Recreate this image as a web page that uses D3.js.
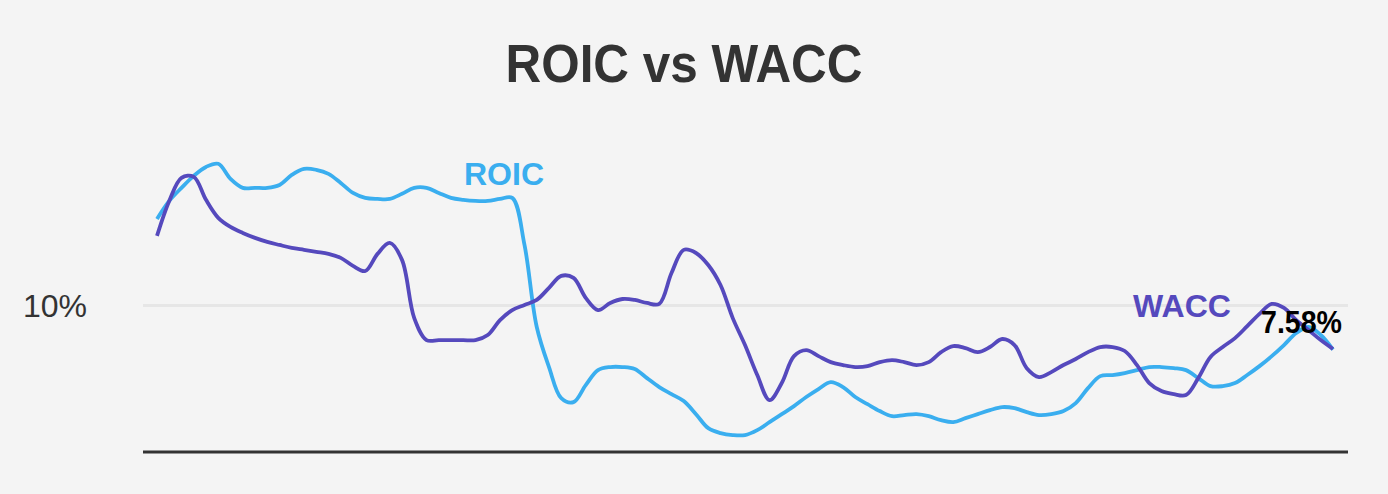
<!DOCTYPE html>
<html>
<head>
<meta charset="utf-8">
<script src="https://cdn.jsdelivr.net/npm/d3@7"></script>
<style>
  html, body { margin: 0; padding: 0; background: #f4f4f4; }
  svg { display: block; }
  text { font-family: "Liberation Sans", Arial, Helvetica, sans-serif; }
</style>
</head>
<body>
<svg id="chart" width="1388" height="494"></svg>
<script>
// ---- data (percent values, evenly spaced periods) ----
const roicValues = [
  14.73, 15.72, 16.44, 17.10, 17.59, 17.76, 16.93, 16.44, 16.44, 16.44,
  16.60, 17.15, 17.48, 17.43, 17.21, 16.71, 16.16, 15.89, 15.83, 15.83,
  16.11, 16.44, 16.44, 16.16, 15.89, 15.78, 15.72, 15.72, 15.83, 15.89,
  13.30, 8.79, 6.59, 4.88, 4.66, 5.60, 6.42, 6.59, 6.59, 6.48,
  5.98, 5.49, 5.10, 4.72, 4.00, 3.23, 2.96, 2.85, 2.85, 3.12,
  3.56, 4.00, 4.44, 4.94, 5.38, 5.76, 5.49, 4.94, 4.55, 4.17,
  3.89, 3.95, 4.00, 3.89, 3.67, 3.56, 3.78, 4.00, 4.22, 4.39,
  4.33, 4.11, 3.95, 4.00, 4.17, 4.61, 5.43, 6.09, 6.15, 6.26,
  6.42, 6.59, 6.59, 6.53, 6.42, 5.98, 5.54, 5.54, 5.71, 6.15,
  6.64, 7.19, 7.80, 8.46, 8.79, 8.35, 7.55
];
const waccValues = [
  13.80, 15.72, 16.99, 17.04, 15.78, 14.79, 14.29, 13.96, 13.69, 13.47,
  13.30, 13.14, 13.03, 12.92, 12.81, 12.59, 12.15, 11.87, 12.81, 13.41,
  12.48, 9.28, 8.07, 8.07, 8.07, 8.07, 8.07, 8.35, 9.17, 9.72,
  10.00, 10.28, 10.94, 11.60, 11.49, 10.39, 9.72, 10.11, 10.33, 10.28,
  10.11, 10.06, 11.76, 13.03, 12.86, 12.20, 11.10, 9.28, 7.80, 6.15,
  4.77, 5.71, 7.19, 7.52, 7.19, 6.86, 6.70, 6.59, 6.64, 6.86,
  6.97, 6.86, 6.70, 6.86, 7.41, 7.74, 7.63, 7.41, 7.69, 8.13,
  7.80, 6.53, 6.04, 6.31, 6.70, 7.03, 7.41, 7.69, 7.69, 7.47,
  6.70, 5.71, 5.27, 5.10, 5.05, 5.98, 7.14, 7.69, 8.18, 8.84,
  9.51, 10.06, 9.84, 9.17, 8.63, 8.07, 7.58
];
const periods = roicValues.map((_, i) => i);
const yTicks = [10];
const seriesNames = ["ROIC", "WACC"];
const titleText = "ROIC vs WACC";
const lastLabel = "7.58%";

// ---- layout ----
const svg = d3.select("#chart");
const W = 1388, H = 494;
svg.append("rect").attr("width", W).attr("height", H).attr("fill", "#f4f4f4");

const x = d3.scaleLinear().domain([0, periods.length - 1]).range([157, 1333]);
const y = d3.scaleLinear().domain([1.92, 10]).range([452, 305]);

// title
svg.append("text")
  .attr("x", 684).attr("y", 82)
  .attr("text-anchor", "middle")
  .attr("font-size", 53).attr("font-weight", "bold")
  .attr("fill", "#333333")
  .attr("textLength", 357).attr("lengthAdjust", "spacingAndGlyphs")
  .text(titleText);

// y axis: gridline + label via d3 axis
const yAxis = d3.axisLeft(y).tickValues(yTicks).tickSize(-(1348 - 143))
  .tickFormat(d => d + "%");
const gy = svg.append("g").attr("transform", "translate(143,0)").call(yAxis);
gy.select(".domain").remove();
gy.selectAll(".tick line").attr("stroke", "#e6e6e6").attr("stroke-width", 3);
gy.selectAll(".tick text")
  .attr("x", -56).attr("dy", "0.36em")
  .attr("font-size", 32).attr("fill", "#333333")
  .attr("font-family", "'Liberation Sans', Arial, sans-serif");

// baseline
svg.append("line")
  .attr("x1", 143).attr("x2", 1348)
  .attr("y1", y(1.92)).attr("y2", y(1.92))
  .attr("stroke", "#333333").attr("stroke-width", 3);

const line = d3.line()
  .x((d, i) => x(periods[i]))
  .y(d => y(d))
  .curve(d3.curveCatmullRom.alpha(0.5));

svg.append("path").datum(roicValues)
  .attr("d", line).attr("fill", "none")
  .attr("stroke", "#3aaeef").attr("stroke-width", 3.8)
  .attr("stroke-linejoin", "round");

svg.append("path").datum(waccValues)
  .attr("d", line).attr("fill", "none")
  .attr("stroke", "#5549bd").attr("stroke-width", 3.8)
  .attr("stroke-linejoin", "round");

// series labels
svg.append("text")
  .attr("x", 504).attr("y", 185).attr("text-anchor", "middle")
  .attr("font-size", 32).attr("font-weight", "bold").attr("fill", "#3aaeef")
  .text(seriesNames[0]);
svg.append("text")
  .attr("x", 1182).attr("y", 317).attr("text-anchor", "middle")
  .attr("font-size", 32).attr("font-weight", "bold").attr("fill", "#5549bd")
  .text(seriesNames[1]);

// last value label
svg.append("text")
  .attr("x", 1342).attr("y", 333).attr("text-anchor", "end")
  .attr("font-size", 31).attr("font-weight", "bold").attr("fill", "#000000")
  .attr("textLength", 81).attr("lengthAdjust", "spacingAndGlyphs")
  .text(lastLabel);
</script>
</body>
</html>
